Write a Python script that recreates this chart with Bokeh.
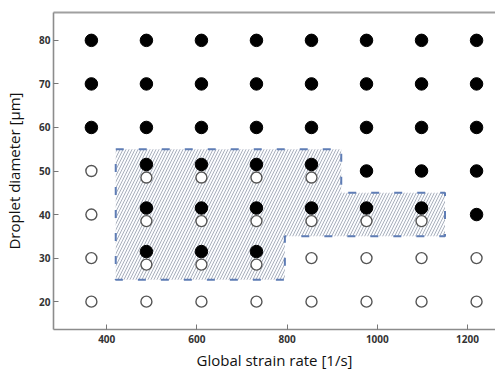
from bokeh.plotting import figure
from bokeh.models import LinearAxis, FixedTicker, Range1d
from bokeh.embed import file_html
from bokeh.resources import INLINE

# ---- data ----
strain_rates = [366, 488, 610, 732, 854, 976, 1098, 1220]
diameters = [80, 70, 60, 50, 40, 30, 20]
# outcome per (diameter row, strain-rate column): F = filled (coalescence), O = open, B = both
outcomes = [
    "FFFFFFFF",
    "FFFFFFFF",
    "FFFFFFFF",
    "OBBBBFFF",
    "OBBBBBBF",
    "OBBBOOOO",
    "OOOOOOOO",
]
# transition region outline (strain rate, diameter)
region_x = [420, 920, 920, 1150, 1150, 795, 795, 420]
region_y = [55, 55, 45, 45, 35, 35, 25, 25]
x_ticks = [400, 600, 800, 1000, 1200]
y_ticks = [20, 30, 40, 50, 60, 70, 80]

shift = 1.5  # vertical display offset when both outcomes occur
fx, fy, ox, oy = [], [], [], []
for d, row in zip(diameters, outcomes):
    for s, c in zip(strain_rates, row):
        if c == "F":
            fx.append(s); fy.append(d)
        elif c == "O":
            ox.append(s); oy.append(d)
        else:
            fx.append(s); fy.append(d + shift)
            ox.append(s); oy.append(d - shift)

p = figure(width=495, height=372, output_backend="svg", toolbar_location=None,
           x_range=Range1d(282, 1262), y_range=Range1d(13.6, 86.4),
           min_border_left=53, min_border_right=0, min_border_top=12, min_border_bottom=42)
p.outline_line_color = None
p.xgrid.visible = False
p.ygrid.visible = False
p.background_fill_color = "white"
p.border_fill_color = "white"

p.patch(region_x, region_y, fill_color="#fbfcfe", hatch_pattern="/", hatch_color="#a9b0bc",
        hatch_scale=6, hatch_weight=1.0, line_color="#5f7db5", line_width=2,
        line_dash="8 15")

p.scatter(ox, oy, size=11, fill_color="white", line_color="#555555", line_width=1.4)
p.scatter(fx, fy, size=12.5, fill_color="black", line_color="black")

for ax in (p.xaxis[0], p.yaxis[0]):
    ax.axis_line_color = "#8c8c8c"
    ax.axis_line_width = 1.6
    ax.major_tick_in = 5
    ax.major_tick_out = 0
    ax.minor_tick_line_color = None
    ax.major_tick_line_color = "#777777"
    ax.major_label_text_font = "Open Sans"
    ax.major_label_text_font_style = "bold"
    ax.major_label_text_font_size = "10px"
    ax.major_label_text_color = "#333333"
    ax.axis_label_text_font = "Open Sans"
    ax.axis_label_text_font_style = "normal"
    ax.axis_label_text_font_size = "15px"
    ax.axis_label_text_color = "#111111"

p.xaxis[0].ticker = FixedTicker(ticks=x_ticks)
p.yaxis[0].ticker = FixedTicker(ticks=y_ticks)
p.xaxis[0].axis_label = "Global strain rate [1/s]"
p.yaxis[0].axis_label = "Droplet diameter [μm]"
p.xaxis[0].major_label_standoff = 5
p.yaxis[0].major_label_standoff = 3
p.xaxis[0].axis_label_standoff = 4
p.yaxis[0].axis_label_standoff = 12

top = LinearAxis(ticker=FixedTicker(ticks=[]), axis_line_color="#a0a0a0", axis_line_width=2,
                 major_tick_line_color=None, minor_tick_line_color=None,
                 major_label_text_font_size="0px")
p.add_layout(top, "above")

open("out.html", "w").write(file_html(p, INLINE))
